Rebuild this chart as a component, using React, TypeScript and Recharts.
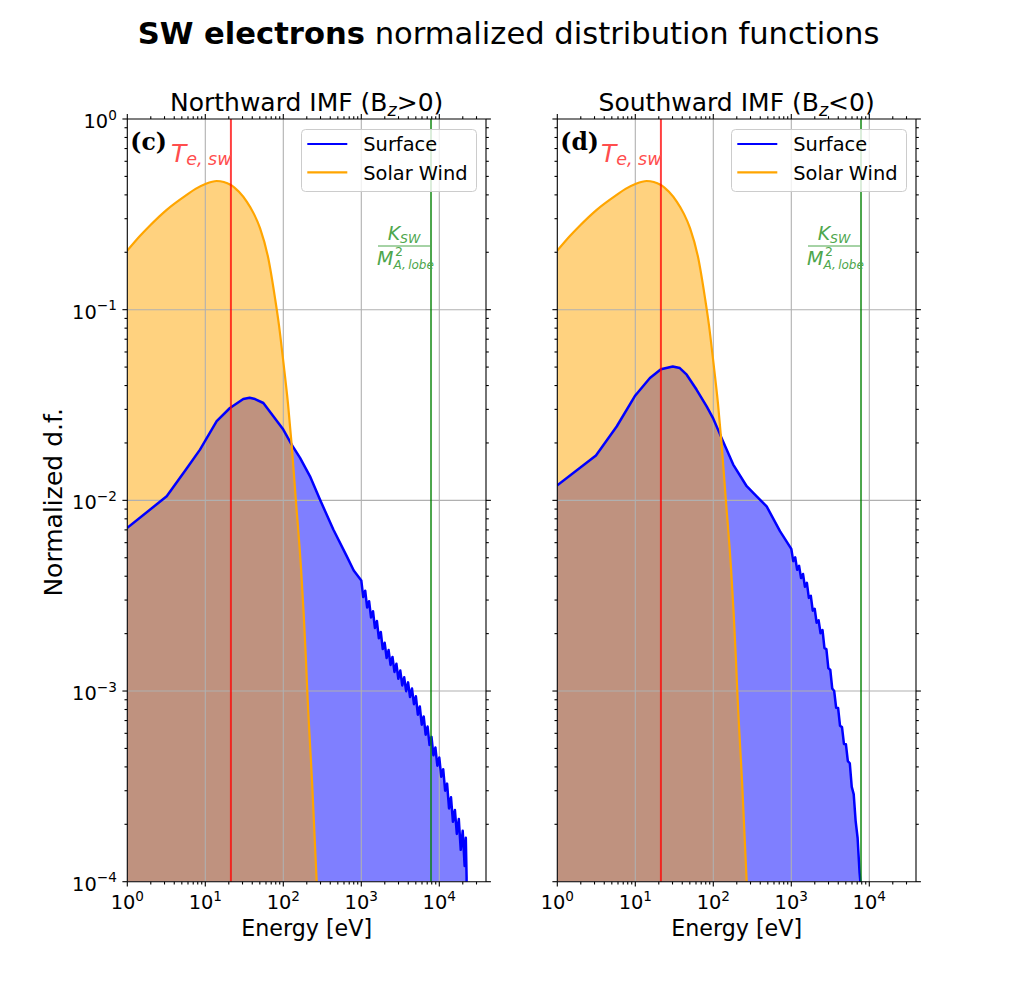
import React from "react";
import { ComposedChart, Area, Line, XAxis, YAxis, ReferenceLine, Legend } from "recharts";

// solar wind electrons, same curve in both panels
const SW_ENERGY = [1, 1.46, 2, 3.2, 5.77, 7.5, 10.2, 14, 21.3, 27, 34, 42, 50.3, 64.2, 78.3, 88, 100, 115, 128, 145, 170, 195, 203, 235, 268];
const SW_DF = [0.204, 0.244, 0.279, 0.334, 0.4, 0.43, 0.458, 0.473, 0.451, 0.415, 0.369, 0.318, 0.268, 0.186, 0.115, 0.083, 0.0535, 0.032, 0.0196, 0.01, 0.0042, 0.00147, 0.001, 0.00032, 0.0001];

// surface electrons, northward IMF (noisy above ~1 keV)
const NORTH_ENERGY = [1, 3.2, 5.77, 8.55, 14, 20.7, 30.7, 37, 43.4, 55.5, 74.5, 100, 128, 164, 220, 295, 438, 650, 800,
  1000, 1059, 1122, 1189, 1259, 1334, 1413, 1496, 1585, 1679, 1778, 1884, 1995, 2113, 2239, 2371, 2512, 2661, 2818, 2985,
  3162, 3350, 3548, 3758, 3981, 4217, 4467, 4732, 5012, 5309, 5623, 5957, 6310, 6683, 7079, 7499, 7943, 8414, 8913, 9441,
  10000, 10593, 11220, 11885, 12589, 13335, 14125, 14962, 15849, 16788, 17783, 18836, 19953, 21135, 21878, 22387, 22450];
const NORTH_DF = [0.00718, 0.0105, 0.0147, 0.01845, 0.026, 0.0305, 0.034, 0.0345, 0.034, 0.0324, 0.0276, 0.0235, 0.0196, 0.0167, 0.01337, 0.0101, 0.00703, 0.0051, 0.00429,
  0.0038, 0.00311, 0.00336, 0.00274, 0.00296, 0.00243, 0.00262, 0.00214, 0.00233, 0.00189, 0.00204, 0.00166, 0.00179, 0.00149, 0.00164, 0.00137, 0.00151, 0.00126, 0.00139, 0.00116,
  0.00128, 0.00107, 0.00118, 0.000998, 0.00111, 0.00093, 0.00103, 0.000853, 0.000938, 0.000751, 0.00083, 0.000666, 0.000736, 0.00059, 0.000651, 0.000521, 0.000575, 0.00046, 0.000506, 0.000406,
  0.000448, 0.000355, 0.000389, 0.0003, 0.000327, 0.000242, 0.000277, 0.000206, 0.000238, 0.000178, 0.000213, 0.000147, 0.000185, 0.000121, 0.00017, 0.000105, 0.00008];

// surface electrons, southward IMF
const SOUTH_ENERGY = [1, 3.13, 5.77, 10, 15.4, 21.3, 30.2, 37.2, 45.6, 61.2, 82.2, 100, 128, 180, 268, 360, 483, 716,
  1000, 1059, 1122, 1189, 1259, 1334, 1413, 1496, 1585, 1679, 1778, 1884, 1995, 2113, 2239, 2371, 2512, 2661, 2818, 2985,
  3162, 3350, 3548, 3758, 3981, 4217, 4467, 4732, 5012, 5309, 5623, 5957, 6310, 6683, 7079, 7499, 7762, 8035];
const SOUTH_DF = [0.012, 0.0172, 0.0244, 0.0355, 0.0438, 0.0487, 0.0504, 0.0494, 0.0456, 0.038, 0.0311, 0.0268, 0.0212, 0.0154, 0.01186, 0.0105, 0.0093, 0.00689,
  0.00557, 0.0048, 0.00503, 0.00432, 0.00453, 0.00391, 0.00411, 0.00352, 0.00369, 0.00308, 0.00316, 0.00264, 0.0027, 0.00228, 0.00235, 0.00201, 0.00209, 0.00168, 0.00166, 0.00132,
  0.00129, 0.00103, 0.001, 0.000817, 0.000815, 0.000657, 0.000647, 0.000528, 0.000526, 0.000429, 0.000418, 0.000314, 0.000288, 0.000208, 0.00017, 0.000112, 0.0000955, 0.00008];

const T_E_SW = 21.3; // eV
const K_SW_LOBE = 7830; // eV

const X_MIN = 1;
const X_MAX = 39700;
const Y_MIN = 1e-4;
const Y_MAX = 1;
const X_DECADES = [1, 10, 100, 1000, 10000];
const X_EXPONENTS = ["0", "1", "2", "3", "4"];
const Y_DECADES = [1e-4, 1e-3, 1e-2, 1e-1, 1];
const Y_EXPONENTS = ["−4", "−3", "−2", "−1", "0"];

const FONT = "DejaVu Sans";
const W = 510;
const H = 991;

const withMinors = (decades: number[], max: number) => {
  const out: number[] = [];
  decades.forEach((d) => {
    for (let m = 1; m < 10; m++) {
      const v = Number((d * m).toPrecision(6));
      if (v <= max) out.push(v);
    }
  });
  return out;
};
const X_TICKS = withMinors(X_DECADES, X_MAX);
const Y_TICKS = withMinors(Y_DECADES, Y_MAX);

const decadeIndex = (list: number[], v: number) => list.findIndex((d) => Math.abs(d - v) < d * 1e-6);

function buildRows(energy: number[], df: number[]) {
  const map = new Map<number, any>();
  const row = (e: number) => {
    if (!map.has(e)) map.set(e, { E: e });
    return map.get(e);
  };
  SW_ENERGY.forEach((e, i) => (row(e).sw = SW_DF[i]));
  energy.forEach((e, i) => (row(e).surf = df[i]));
  return Array.from(map.values()).sort((a, b) => a.E - b.E);
}

const xTick = (side: "top" | "bottom", labels: boolean) => (props: any) => {
  const { x, y, payload } = props;
  const i = decadeIndex(X_DECADES, payload.value);
  const len = i >= 0 ? 4.9 : 2.8;
  const dir = side === "bottom" ? 1 : -1;
  return (
    <g>
      <line x1={x} x2={x} y1={y} y2={y + dir * len} stroke="#000" strokeWidth={1.1} />
      {labels && i >= 0 && (
        <text x={x} y={y + 27.5} textAnchor="middle" fontSize={19.4} fontFamily={FONT} fill="#000">
          10<tspan dy={-8} fontSize={13.6}>{X_EXPONENTS[i]}</tspan>
        </text>
      )}
    </g>
  );
};

const yTick = (side: "left" | "right", labels: boolean) => (props: any) => {
  const { x, y, payload } = props;
  const i = decadeIndex(Y_DECADES, payload.value);
  const len = i >= 0 ? 4.9 : 2.8;
  const dir = side === "left" ? -1 : 1;
  return (
    <g>
      <line x1={x} x2={x + dir * len} y1={y} y2={y} stroke="#000" strokeWidth={1.1} />
      {labels && i >= 0 && (
        <text x={x - 10.5} y={y + 9} textAnchor="end" fontSize={19.4} fontFamily={FONT} fill="#000">
          10<tspan dy={-8.5} fontSize={13.6}>{Y_EXPONENTS[i]}</tspan>
        </text>
      )}
    </g>
  );
};

const LegendBox = () => (
  <svg width={176} height={63} style={{ display: "block" }}>
    <rect x={0.5} y={0.5} width={175} height={62} rx={4} fill="#fff" fillOpacity={0.8} stroke="#cccccc" />
    <line x1={6.3} x2={46.3} y1={15} y2={15} stroke="#0000ff" strokeWidth={2.1} />
    <text x={62.3} y={22.4} fontSize={19.4} fontFamily={FONT} fill="#000">Surface</text>
    <line x1={6.3} x2={46.3} y1={43.4} y2={43.4} stroke="#ffa500" strokeWidth={2.1} />
    <text x={62.3} y={50.7} fontSize={19.4} fontFamily={FONT} fill="#000">Solar Wind</text>
  </svg>
);

const tempLabel = (props: any) => {
  const { x, y } = props.viewBox;
  return (
    <text x={x - 60} y={y + 42.7} fontSize={25} fontStyle="italic" fontFamily={FONT} fill="#ff4d4d">
      T<tspan dy={3} fontSize={17.5}>e, sw</tspan>
    </text>
  );
};

const lobeLabel = (props: any) => {
  const { x, y } = props.viewBox;
  const cx = x - 27;
  const g = "#4da64d";
  return (
    <g fontFamily={FONT} fill={g} fontStyle="italic">
      <text x={cx} y={y + 121} textAnchor="middle" fontSize={19}>
        K<tspan dy={3} fontSize={12.5}>SW</tspan>
      </text>
      <line x1={cx - 26} x2={cx + 26} y1={y + 127} y2={y + 127} stroke={g} strokeWidth={1} />
      <text x={cx - 27} y={y + 145.5} fontSize={19}>M</text>
      <text x={cx - 9} y={y + 137} fontSize={12.5} fontStyle="normal">2</text>
      <text x={cx - 10.5} y={y + 149.5} fontSize={12}>{"A,\u2009lobe"}</text>
    </g>
  );
};

const tagLabel = (tag: string) => (props: any) => {
  const { x, y } = props.viewBox;
  return (
    <text x={x + 3} y={y + 30.5} fontSize={23.5} fontWeight="bold" fontFamily="DejaVu Serif" fill="#000">
      {tag}
    </text>
  );
};

type PanelProps = {
  left: number;
  plotLeft: number;
  energy: number[];
  df: number[];
  tag: string;
  title: [string, string, string];
  yLabels: boolean;
};

function Panel({ left, plotLeft, energy, df, tag, title, yLabels }: PanelProps) {
  const rows = buildRows(energy, df);
  const plotWidth = 358.7;
  const margin = { top: 109, bottom: H - 881.7 - 60, left: plotLeft - 60, right: W - plotLeft - plotWidth - 10 };

  const titleLabel = (props: any) => {
    const vb = props.viewBox;
    return (
      <text x={vb.x + vb.width / 2} y={vb.y + vb.height - 8} textAnchor="middle" fontSize={25} fontFamily={FONT} fill="#000">
        {title[0]}
        <tspan dy={5} fontSize={17.5} fontStyle="italic">{title[1]}</tspan>
        <tspan dy={-5}>{title[2]}</tspan>
      </text>
    );
  };
  const xLabel = (props: any) => {
    const vb = props.viewBox;
    return (
      <text x={vb.x + vb.width / 2} y={vb.y + 54.5} textAnchor="middle" fontSize={22.2} fontFamily={FONT} fill="#000">
        Energy [eV]
      </text>
    );
  };
  const yLabel = (props: any) => {
    const vb = props.viewBox;
    const cx = vb.x - 5.3;
    const cy = vb.y + vb.height / 2 + 2;
    return (
      <text x={cx} y={cy} transform={`rotate(-90 ${cx} ${cy})`} textAnchor="middle" fontSize={25} fontFamily={FONT} fill="#000">
        Normalized d.f.
      </text>
    );
  };

  const axisLine = { stroke: "#000", strokeWidth: 1.1 };

  return (
    <div style={{ position: "absolute", left, top: 0 }}>
      <ComposedChart width={W} height={H} data={rows} margin={margin}>
        <XAxis xAxisId={0} dataKey="E" type="number" scale="log" domain={[X_MIN, X_MAX]} allowDataOverflow
          ticks={X_TICKS} interval={0} tick={xTick("bottom", true)} tickLine={false} tickSize={0} tickMargin={0}
          axisLine={axisLine} height={60} label={xLabel} />
        <XAxis xAxisId="top" orientation="top" dataKey="E" type="number" scale="log" domain={[X_MIN, X_MAX]} allowDataOverflow
          ticks={X_TICKS} interval={0} tick={xTick("top", false)} tickLine={false} tickSize={0} tickMargin={0}
          axisLine={axisLine} height={10} label={titleLabel} />
        <YAxis yAxisId={0} type="number" scale="log" domain={[Y_MIN, Y_MAX]} allowDataOverflow
          ticks={Y_TICKS} interval={0} tick={yTick("left", yLabels)} tickLine={false} tickSize={0} tickMargin={0}
          axisLine={axisLine} width={60} label={yLabels ? yLabel : undefined} />
        <YAxis yAxisId="right" orientation="right" type="number" scale="log" domain={[Y_MIN, Y_MAX]} allowDataOverflow
          ticks={Y_TICKS} interval={0} tick={yTick("right", false)} tickLine={false} tickSize={0} tickMargin={0}
          axisLine={axisLine} width={10} />

        <Area dataKey="surf" type="linear" stroke="none" fill="#0000ff" fillOpacity={0.5} baseValue={Y_MIN}
          connectNulls isAnimationActive={false} legendType="none" />
        <Area dataKey="sw" type="monotoneX" stroke="none" fill="#ffa500" fillOpacity={0.5} baseValue={Y_MIN}
          connectNulls isAnimationActive={false} legendType="none" />

        {X_DECADES.slice(1).map((v) => (
          <ReferenceLine key={"gx" + v} x={v} stroke="#b0b0b0" strokeWidth={1.1} />
        ))}
        {Y_DECADES.slice(1, -1).map((v) => (
          <ReferenceLine key={"gy" + v} y={v} stroke="#b0b0b0" strokeWidth={1.1} />
        ))}

        <Line dataKey="surf" type="linear" stroke="#0000ff" strokeWidth={2.5} strokeLinejoin="round" dot={false} activeDot={false}
          connectNulls isAnimationActive={false} legendType="none" />
        <Line dataKey="sw" type="monotoneX" stroke="#ffa500" strokeWidth={2.2} dot={false} activeDot={false}
          connectNulls isAnimationActive={false} legendType="none" />

        <ReferenceLine x={T_E_SW} stroke="#ff0000" strokeOpacity={0.75} strokeWidth={2} label={tempLabel} />
        <ReferenceLine x={K_SW_LOBE} stroke="#008000" strokeOpacity={0.7} strokeWidth={2} label={lobeLabel} />
        <ReferenceLine x={X_MIN} stroke="none" label={tagLabel(tag)} />

        <Legend layout="vertical" align="center" verticalAlign="middle" content={() => <LegendBox />}
          wrapperStyle={{ left: plotLeft + 173.4, top: 129.3, width: 176, height: 63, lineHeight: 0 }} />
      </ComposedChart>
    </div>
  );
}

export default function App() {
  return (
    <div style={{ position: "absolute", left: 0, top: 0, width: 1017, height: 991, background: "#fff" }}>
      <svg width={1017} height={60} style={{ position: "absolute", left: 0, top: 0 }}>
        <text x={508.5} y={44} textAnchor="middle" fontSize={30.6} fontFamily={FONT} fill="#000">
          <tspan fontWeight="bold">SW electrons</tspan>
          {" normalized distribution functions"}
        </text>
      </svg>
      <Panel left={0} plotLeft={127.3} energy={NORTH_ENERGY} df={NORTH_DF} tag="(c)"
        title={["Northward IMF (B", "z", ">0)"]} yLabels />
      <Panel left={450} plotLeft={107.3} energy={SOUTH_ENERGY} df={SOUTH_DF} tag="(d)"
        title={["Southward IMF (B", "z", "<0)"]} yLabels={false} />
    </div>
  );
}
